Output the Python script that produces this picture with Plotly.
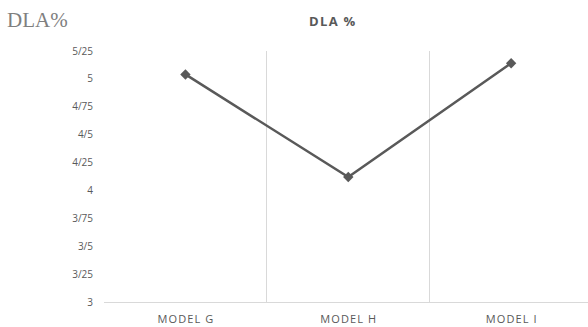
import plotly.graph_objects as go

# DLA % per model
models = ["MODEL G", "MODEL H", "MODEL I"]
dla_values = [5.04, 4.12, 5.14]

# y-axis ticks, labelled with "/" as the decimal separator
tick_values = [3, 3.25, 3.5, 3.75, 4, 4.25, 4.5, 4.75, 5, 5.25]
tick_labels = ["3", "3/25", "3/5", "3/75", "4", "4/25", "4/5", "4/75", "5", "5/25"]

GRAY = "#595959"
GRID = "#d9d9d9"


def spaced(text, gap="\u200a"):
    """Widen the letter spacing of a label with hair spaces."""
    return gap.join(text)


fig = go.Figure(
    go.Scatter(
        x=models,
        y=dla_values,
        mode="lines+markers",
        line=dict(color=GRAY, width=2.5),
        marker=dict(symbol="diamond", size=8, color=GRAY),
        showlegend=False,
    )
)

fig.update_layout(
    width=588,
    height=327,
    margin=dict(l=104, r=0, t=51, b=25),
    paper_bgcolor="white",
    plot_bgcolor="white",
    font=dict(family="Open Sans, Noto Sans, sans-serif", color=GRAY, size=10),
    title=dict(
        text="<b>" + spaced("DLA %") + "</b>",
        x=0.565,
        xanchor="center",
        y=0.935,
        yanchor="middle",
        font=dict(size=13, color=GRAY, family="Open Sans, sans-serif"),
    ),
    xaxis=dict(
        type="category",
        range=[-0.5, 2.472],
        tickson="boundaries",
        tickvals=models,
        ticktext=[spaced(m) for m in models],
        showgrid=True,
        gridcolor=GRID,
        gridwidth=1,
        showline=True,
        linecolor=GRID,
        linewidth=1,
        ticks="",
        ticklabelstandoff=7,
        tickfont=dict(size=11, color=GRAY),
        zeroline=False,
    ),
    yaxis=dict(
        range=[3, 5.25],
        tickvals=tick_values,
        ticktext=tick_labels,
        showgrid=False,
        showline=False,
        zeroline=False,
        ticks="",
        ticklabelstandoff=10,
        tickfont=dict(size=10, color=GRAY),
    ),
    annotations=[
        dict(
            text="DLA%",
            xref="paper",
            yref="paper",
            x=-0.205,
            y=1.124,
            xanchor="left",
            yanchor="middle",
            showarrow=False,
            font=dict(family="Liberation Serif, Times New Roman, serif", size=21, color="#7f7f7f"),
        )
    ],
)

fig.write_html("out.html")
